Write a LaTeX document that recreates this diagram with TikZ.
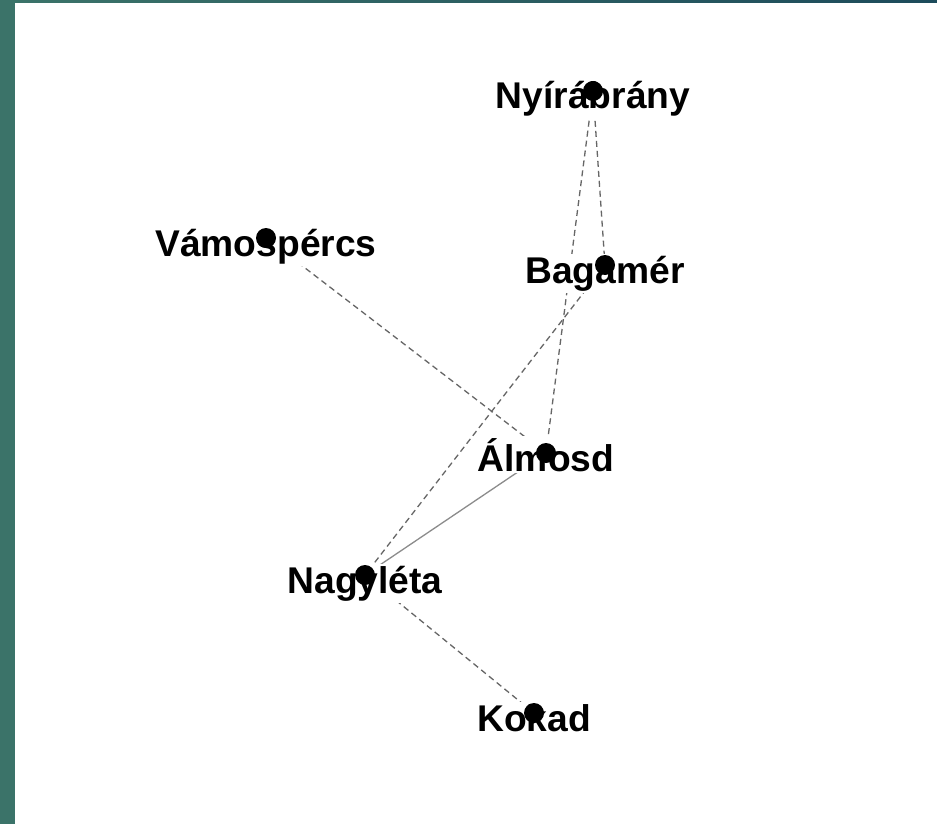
\documentclass[tikz,border=0pt]{standalone}
\usepackage{fontspec}
\setmainfont{Liberation Sans}
\definecolor{frameteal}{HTML}{3B7369}
\definecolor{framedark}{HTML}{1D4B5B}
\definecolor{tiegray}{HTML}{666666}
\tikzset{
  tie/.style={draw=tiegray,line width=.65pt,dash pattern=on 3pt off 2pt},
  town/.style={anchor=base,fill=white,inner sep=1pt,font=\fontsize{18.6}{20}\selectfont\bfseries}
}
\begin{document}
\begin{tikzpicture}[x=.5pt,y=-.5pt]
    \useasboundingbox (0,0) rectangle (937,824);
    \fill[frameteal] (0,0) rectangle (15,824);
    \shade[left color=frameteal,right color=framedark] (15,0) rectangle (937,3);
    \fill[white] (15,3) rectangle (937,824);
    \foreach \n/\x/\y in {nyir/593/91,vamo/266/238,baga/605/265,almo/546/453,nagy/365/575,koka/534/713}
    \coordinate (\n) at (\x,\y);
    \foreach \a/\b in {nyir/baga,nyir/almo,baga/nagy,vamo/almo,nagy/koka}
    \draw[tie] (\a) -- (\b);
    \draw[tie,solid,draw=tiegray!75] (almo) -- (nagy);
    \foreach \n/\t in {nyir/Nyírábrány,vamo/Vámospércs,baga/Bagamér,almo/Álmosd,nagy/Nagyléta,koka/Kokad}
    \node[town] (\n-l) at ([yshift=-9pt]\n) {\t};
    \foreach \n in {nyir,vamo,baga,almo,nagy,koka}
    \fill (\n) circle (5pt);
  \end{tikzpicture}
\end{document}
